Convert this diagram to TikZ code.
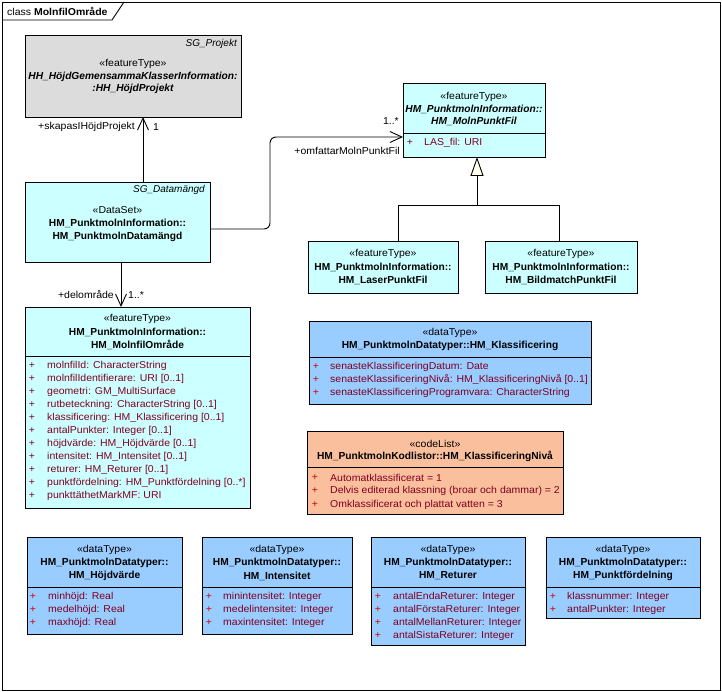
\documentclass[tikz,border=0pt]{standalone}
\usepackage{fontspec}
\setmainfont{Liberation Sans}[FakeStretch=1.05]
\newfontfamily\namefont{Liberation Sans}
\usetikzlibrary{arrows.meta,calc}
\definecolor{cyanfill}{RGB}{204,255,255}
\definecolor{bluefill}{RGB}{153,204,255}
\definecolor{orangefill}{RGB}{250,191,156}
\definecolor{grayfill}{RGB}{220,220,220}
\definecolor{attrcol}{RGB}{128,0,32}
\definecolor{plusred}{RGB}{210,0,0}
\definecolor{ivory}{RGB}{255,255,235}
\newcommand\arow[5]{\node[plussign] (#1p) at (#2,#4) {+};\node[attrtxt] (#1) at (#3,#4) {#5};}
\newcommand\sepline[2]{\draw[umlline] (#1.west |- 0,#2) -- (#1.east |- 0,#2);}
\begin{document}
\begin{tikzpicture}[x=1pt,y=-1pt,
  font=\fontsize{10}{12}\selectfont,
  umlline/.style={line width=0.9pt},
  box/.style={draw, line width=0.9pt, anchor=north west, inner sep=0pt, outer sep=0pt},
  cyanbox/.style={box, fill=cyanfill},
  bluebox/.style={box, fill=bluefill},
  orangebox/.style={box, fill=orangefill},
  graybox/.style={box, fill=grayfill},
  hdr/.style={inner sep=0pt, anchor=center},
  nm/.style={hdr, font=\namefont\fontsize{10.2}{12}\selectfont\bfseries},
  nmi/.style={hdr, font=\namefont\fontsize{10.2}{12}\selectfont\bfseries\itshape},
  tagv/.style={inner sep=0pt, anchor=east, font=\namefont\fontsize{10}{12}\selectfont\itshape},
  attrtxt/.style={inner sep=0pt, anchor=west, text=attrcol},
  plussign/.style={inner sep=0pt, anchor=center, text=attrcol},
  assoc/.style={umlline, -{Straight Barb[length=12pt,width=11pt,line width=0.9pt]}},
  gen/.style={umlline, -{Triangle[length=19pt,width=13pt,fill=ivory,line width=0.9pt]}},
  lbl/.style={inner sep=0pt, font=\fontsize{10}{12}\selectfont}
]
\useasboundingbox (0,0) rectangle (722,692);
% frame
\draw[umlline] (2,2) rectangle (720,690);
\draw[umlline] (2,20) -- (112,20) -- (124,2);
\node[anchor=west, inner sep=0pt] (title) at (7,11) {class \textbf{MolnfilOmråde}};

% SG_Projekt
\node[graybox, minimum width=216pt, minimum height=82pt] (sgp) at (25,35) {};
\node[tagv] (sgpt) at (237,44) {SG\_Projekt};
\node[hdr] (sgp1) at (133,64) {«featureType»};
\node[nmi] (sgp2) at (133,77) {HH\_HöjdGemensammaKlasserInformation:};
\node[nmi] (sgp3) at (133,89) {:HH\_HöjdProjekt};

% Datamängd
\node[cyanbox, minimum width=185pt, minimum height=80pt] (dm) at (25,182) {};
\node[tagv] (dmt) at (205,190) {SG\_Datamängd};
\node[hdr] (dm1) at (117.5,210) {«DataSet»};
\node[nm] (dm2) at (117.5,223) {HM\_PunktmolnInformation::};
\node[nm] (dm3) at (117.5,237) {HM\_PunktmolnDatamängd};

% MolnPunktFil
\node[cyanbox, minimum width=142pt, minimum height=74pt] (mpf) at (403,83) {};
\node[hdr] (mpf1) at (474,97) {«featureType»};
\node[nmi] (mpf2) at (474,109) {HM\_PunktmolnInformation::};
\node[nmi] (mpf3) at (474,121) {HM\_MolnPunktFil};
\sepline{mpf}{133}
\arow{mpfa}{410}{424}{143}{LAS\_fil: URI}

% LaserPunktFil
\node[cyanbox, minimum width=150pt, minimum height=52pt] (laser) at (308,241) {};
\node[hdr] (laser1) at (383,254) {«featureType»};
\node[nm] (laser2) at (383,267) {HM\_PunktmolnInformation::};
\node[nm] (laser3) at (383,280) {HM\_LaserPunktFil};

% BildmatchPunktFil
\node[cyanbox, minimum width=152pt, minimum height=52pt] (bild) at (485,241) {};
\node[hdr] (bild1) at (561,254) {«featureType»};
\node[nm] (bild2) at (561,267) {HM\_PunktmolnInformation::};
\node[nm] (bild3) at (561,280) {HM\_BildmatchPunktFil};

% MolnfilOmråde
\node[cyanbox, minimum width=225pt, minimum height=201pt] (mo) at (25,307) {};
\node[hdr] (mo1) at (137.5,319) {«featureType»};
\node[nm] (mo2) at (137.5,332) {HM\_PunktmolnInformation::};
\node[nm] (mo3) at (137.5,345) {HM\_MolnfilOmråde};
\sepline{mo}{356}
\arow{moa1}{32}{47}{366}{molnfilId: CharacterString}
\arow{moa2}{32}{47}{379}{molnfilIdentifierare: URI [0..1]}
\arow{moa3}{32}{47}{392}{geometri: GM\_MultiSurface}
\arow{moa4}{32}{47}{405}{rutbeteckning: CharacterString [0..1]}
\arow{moa5}{32}{47}{418}{klassificering: HM\_Klassificering [0..1]}
\arow{moa6}{32}{47}{431}{antalPunkter: Integer [0..1]}
\arow{moa7}{32}{47}{444}{höjdvärde: HM\_Höjdvärde [0..1]}
\arow{moa8}{32}{47}{457}{intensitet: HM\_Intensitet [0..1]}
\arow{moa9}{32}{47}{470}{returer: HM\_Returer [0..1]}
\arow{moa10}{32}{47}{483}{punktfördelning: HM\_Punktfördelning [0..*]}
\arow{moa11}{32}{47}{496}{punkttäthetMarkMF: URI}

\begin{scope}[plussign/.append style={text=plusred}]
% Klassificering
\node[bluebox, minimum width=282pt, minimum height=83pt] (kl) at (309,321) {};
\node[hdr] (kl1) at (450,333) {«dataType»};
\node[nm] (kl2) at (450,346) {HM\_PunktmolnDatatyper::HM\_Klassificering};
\sepline{kl}{357}
\arow{kla1}{316}{330}{367}{senasteKlassificeringDatum: Date}
\arow{kla2}{316}{330}{380}{senasteKlassificeringNivå: HM\_KlassificeringNivå [0..1]}
\arow{kla3}{316}{330}{393}{senasteKlassificeringProgramvara: CharacterString}

% KlassificeringNivå
\node[orangebox, minimum width=256pt, minimum height=83pt] (kn) at (307,431) {};
\node[hdr] (kn1) at (435,444) {«codeList»};
\node[nm] (kn2) at (435,456) {HM\_PunktmolnKodlistor::HM\_KlassificeringNivå};
\sepline{kn}{467}
\arow{kna1}{315}{330}{478}{Automatklassificerat = 1}
\arow{kna2}{315}{330}{491}{Delvis editerad klassning (broar och dammar) = 2}
\arow{kna3}{315}{330}{505}{Omklassificerat och plattat vatten = 3}

% Höjdvärde
\node[bluebox, minimum width=155pt, minimum height=97pt] (hv) at (27,537) {};
\node[hdr] (hv1) at (104.5,550) {«dataType»};
\node[nm] (hv2) at (104.5,563) {HM\_PunktmolnDatatyper::};
\node[nm] (hv3) at (104.5,576) {HM\_Höjdvärde};
\sepline{hv}{587}
\arow{hva1}{33}{48}{597}{minhöjd: Real}
\arow{hva2}{33}{48}{610}{medelhöjd: Real}
\arow{hva3}{33}{48}{623}{maxhöjd: Real}

% Intensitet
\node[bluebox, minimum width=150pt, minimum height=97pt] (in) at (202,537) {};
\node[hdr] (in1) at (277,550) {«dataType»};
\node[nm] (in2) at (277,563) {HM\_PunktmolnDatatyper::};
\node[nm] (in3) at (277,576) {HM\_Intensitet};
\sepline{in}{587}
\arow{ina1}{209}{223}{597}{minintensitet: Integer}
\arow{ina2}{209}{223}{610}{medelintensitet: Integer}
\arow{ina3}{209}{223}{623}{maxintensitet: Integer}

% Returer
\node[bluebox, minimum width=154pt, minimum height=108pt] (re) at (371,537) {};
\node[hdr] (re1) at (448,550) {«dataType»};
\node[nm] (re2) at (448,563) {HM\_PunktmolnDatatyper::};
\node[nm] (re3) at (448,576) {HM\_Returer};
\sepline{re}{587}
\arow{rea1}{378}{393}{597}{antalEndaReturer: Integer}
\arow{rea2}{378}{393}{610}{antalFörstaReturer: Integer}
\arow{rea3}{378}{393}{623}{antalMellanReturer: Integer}
\arow{rea4}{378}{393}{636}{antalSistaReturer: Integer}

% Punktfördelning
\node[bluebox, minimum width=154pt, minimum height=81pt] (pf) at (546,537) {};
\node[hdr] (pf1) at (623,550) {«dataType»};
\node[nm] (pf2) at (623,563) {HM\_PunktmolnDatatyper::};
\node[nm] (pf3) at (623,576) {HM\_Punktfördelning};
\sepline{pf}{587}
\arow{pfa1}{553}{567}{597}{klassnummer: Integer}
\arow{pfa2}{553}{567}{610}{antalPunkter: Integer}
\end{scope}

% connectors
\coordinate (c1) at ($(dm.north)+(25.5,0)$);
\draw[assoc] (c1) -- (c1 |- sgp.south);
\node[lbl, anchor=east] (l1) at (135,127) {+skapasIHöjdProjekt};
\node[lbl, anchor=west] (l2) at (153,127) {1};

\coordinate (c2) at ($(dm.south)+(3.5,0)$);
\draw[assoc] (c2) -- (c2 |- mo.north);
\node[lbl, anchor=east] (l3) at (114,295) {+delområde};
\node[lbl, anchor=west] (l4) at (128,295) {1..*};

\coordinate (c3) at ($(dm.east)+(0,7)$);
\coordinate (c4) at ($(mpf.west)+(0,17)$);
\draw[assoc, rounded corners=6pt] (c3) -- (270,0 |- c3) -- (270,0 |- c4) -- (c4);
\node[lbl, anchor=east] (l5) at (400,151) {+omfattarMolnPunktFil};
\node[lbl, anchor=east] (l6) at (399,121) {1..*};

\coordinate (g0) at ($(mpf.south)+(3,0)$);
\coordinate (gj) at (g0 |- 0,205);
\coordinate (g1) at ($(laser.north)+(15,0)$);
\coordinate (g2) at ($(bild.north)+(-2,0)$);
\draw[umlline] (g1) |- (gj);
\draw[umlline] (g2) |- (gj);
\draw[gen] (gj) -- (g0);
\end{tikzpicture}
\end{document}
